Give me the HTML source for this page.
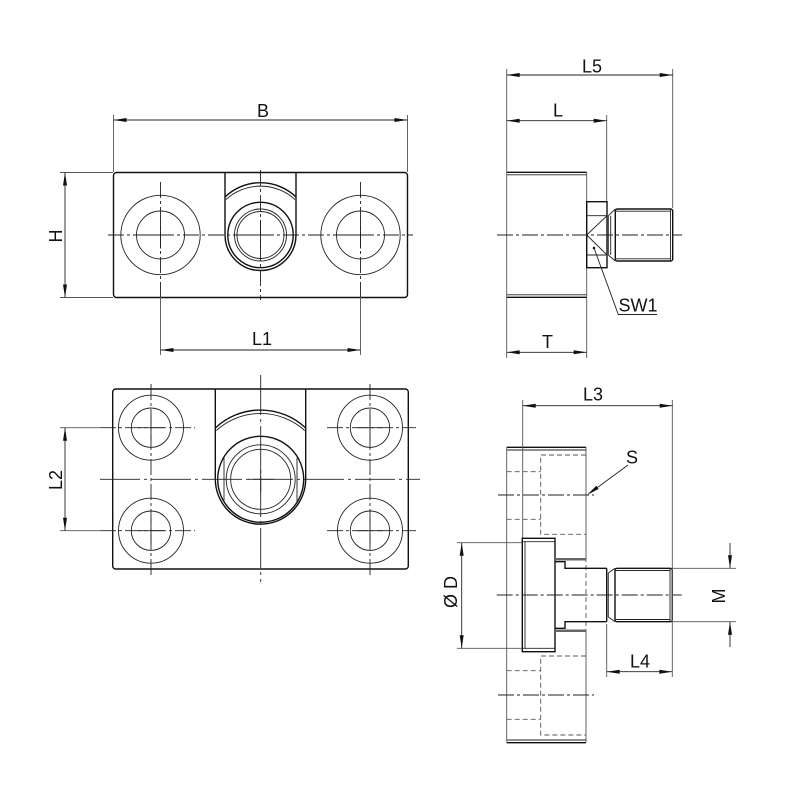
<!DOCTYPE html>
<html><head><meta charset="utf-8"><style>
html,body{margin:0;padding:0;background:#fff;}
svg{display:block;}
.o{stroke:#111;stroke-width:1.4;fill:none}
.t{stroke:#222;stroke-width:0.9;fill:none}
.g{stroke:#555;stroke-width:0.9;fill:none}
.c{stroke:#222;stroke-width:0.9;fill:none;stroke-dasharray:16 3 3 3}
.cl{stroke:#222;stroke-width:0.9;fill:none;stroke-dasharray:40 4 3 4}
.h{stroke:#555;stroke-width:0.9;fill:none;stroke-dasharray:5 3}
.a{fill:#111;stroke:none}
text{font-family:"Liberation Sans",sans-serif;font-size:18px;fill:#111;}
</style></head><body>
<svg width="800" height="800" viewBox="0 0 800 800" xmlns="http://www.w3.org/2000/svg">
<!-- ===== TOP LEFT VIEW ===== -->
<rect class="o" x="113.5" y="172.5" width="294" height="125" rx="3"/>
<path class="o" d="M225,172.5 V235 A35.5,35.5 0 0 0 296,235 V172.5"/>
<path class="o" stroke-width="1.4" d="M225,197 A51.2,51.2 0 0 1 296,197"/>
<path class="t" d="M226,199.5 A51.2,51.2 0 0 1 295,199.5"/>
<circle class="o" stroke-width="1.8" cx="260.5" cy="235" r="32.7"/>
<circle class="t" cx="260.5" cy="235" r="26"/>
<circle class="t" cx="260.5" cy="235" r="23.5"/>
<circle class="t" cx="160.5" cy="235" r="39.7"/>
<circle class="t" cx="160.5" cy="235" r="24"/>
<circle class="t" cx="360.5" cy="235" r="39.7"/>
<circle class="t" cx="360.5" cy="235" r="24"/>
<path class="t" d="M147,235H174M160.5,221.5V248.5M247,235H274M260.5,221.5V248.5M347,235H374M360.5,221.5V248.5"/>
<line class="c" x1="108" y1="235" x2="413" y2="235"/>
<line class="c" x1="160.5" y1="182" x2="160.5" y2="297"/>
<line class="c" x1="360.5" y1="182" x2="360.5" y2="297"/>
<line class="c" x1="260.5" y1="170" x2="260.5" y2="300"/>
<!-- dims -->
<path class="g" d="M113.5,115V172M407.5,115V172M60,172.5H113M60,297.5H113M160.5,297V355M360.5,297V355"/>
<path class="t" d="M113.5,120H407.5M65,172.5V297.5M160.5,350H360.5"/>
<polygon class="a" points="113.5,120 126.5,118 126.5,122"/>
<polygon class="a" points="407.5,120 394.5,118 394.5,122"/>
<polygon class="a" points="65,172.5 63,185.5 67,185.5"/>
<polygon class="a" points="65,297.5 63,284.5 67,284.5"/>
<polygon class="a" points="160.5,350 173.5,348 173.5,352"/>
<polygon class="a" points="360.5,350 347.5,348 347.5,352"/>
<text x="263" y="117" text-anchor="middle">B</text>
<text x="262" y="345" text-anchor="middle">L1</text>
<text transform="translate(62,236) rotate(-90)" text-anchor="middle">H</text>

<!-- ===== TOP RIGHT VIEW ===== -->
<path class="o" d="M506.7,172.3H586.7M506.7,297.3H586.7"/>
<path class="t" d="M506.7,174.8H586.7M506.7,294.8H586.7"/>
<path class="g" d="M506.7,172.3V297.3M586.7,172.3V297.3"/>
<rect class="o" x="586.7" y="201.7" width="20.3" height="66"/>
<path class="t" d="M586.7,215.7H607M586.7,255H607M586.7,235L607,215.7M586.7,235L607,255"/>
<path class="t" d="M608.3,215.7V255M610.7,215.7V255M608.3,215.7L615.3,209M608.3,255L615.3,261"/>
<rect class="o" x="615.3" y="209" width="57.4" height="52" rx="2"/>
<path class="t" d="M615.3,211.2H671M615.3,258.8H671M670.5,209V261"/>
<line class="c" x1="497" y1="235" x2="682" y2="235"/>
<circle cx="594" cy="248" r="1.3" fill="#111"/>
<path class="t" d="M594,248L618.3,314.5H657"/>
<text x="618.5" y="311.5">SW1</text>
<!-- dims -->
<path class="g" d="M506.7,69V172M606.7,115V201M672.7,69V208M506.7,297V358M586.7,297V358"/>
<path class="t" d="M506.7,75H672.7M506.7,120.7H606.7M506.7,352.3H586.7"/>
<polygon class="a" points="506.7,75 519.7,73 519.7,77"/>
<polygon class="a" points="672.7,75 659.7,73 659.7,77"/>
<polygon class="a" points="506.7,120.7 519.7,118.7 519.7,122.7"/>
<polygon class="a" points="606.7,120.7 593.7,118.7 593.7,122.7"/>
<polygon class="a" points="506.7,352.3 519.7,350.3 519.7,354.3"/>
<polygon class="a" points="586.7,352.3 573.7,350.3 573.7,354.3"/>
<text x="592" y="72.5" text-anchor="middle">L5</text>
<text x="558" y="116.5" text-anchor="middle">L</text>
<text x="547.5" y="348" text-anchor="middle">T</text>

<!-- ===== BOTTOM LEFT VIEW ===== -->
<rect class="o" x="112.7" y="389" width="295.6" height="180" rx="3"/>
<path class="o" d="M215.3,389 V479 A45.2,45.2 0 0 0 305.7,479 V389"/>
<path class="o" stroke-width="1.4" d="M215.3,428 A65.8,65.8 0 0 1 305.7,428"/>
<path class="t" d="M216.3,430.5 A65.8,65.8 0 0 1 304.7,430.5"/>
<circle class="o" stroke-width="1.9" cx="260.7" cy="479.3" r="43"/>
<circle class="t" cx="260.7" cy="479.3" r="34.5"/>
<circle class="t" cx="260.7" cy="479.3" r="30"/>
<path class="t" d="M224,458V502M297,458V502"/>
<circle class="t" cx="151" cy="427.7" r="32.5"/><circle class="t" cx="151" cy="427.7" r="19.7"/>
<circle class="t" cx="370" cy="427.7" r="32.5"/><circle class="t" cx="370" cy="427.7" r="19.7"/>
<circle class="t" cx="151" cy="530.7" r="32.5"/><circle class="t" cx="151" cy="530.7" r="19.7"/>
<circle class="t" cx="370" cy="530.7" r="32.5"/><circle class="t" cx="370" cy="530.7" r="19.7"/>
<path class="t" d="M138,427.7H164M151,414.7V440.7M357,427.7H383M370,414.7V440.7M138,530.7H164M151,517.7V543.7M357,530.7H383M370,517.7V543.7M248,479.3H274M260.7,466.3V492.3"/>
<line class="c" x1="100" y1="427.7" x2="195" y2="427.7"/>
<line class="c" x1="327" y1="427.7" x2="416" y2="427.7"/>
<line class="c" x1="100" y1="530.7" x2="195" y2="530.7"/>
<line class="c" x1="327" y1="530.7" x2="416" y2="530.7"/>
<line class="c" x1="151" y1="384" x2="151" y2="576"/>
<line class="c" x1="370" y1="384" x2="370" y2="576"/>
<line class="cl" x1="100" y1="479.3" x2="420" y2="479.3"/>
<line class="cl" x1="260.7" y1="375" x2="260.7" y2="582"/>
<path class="g" d="M60,427.7H100M60,530.7H100"/>
<path class="t" d="M65,427.7V530.7"/>
<polygon class="a" points="65,427.7 63,440.7 67,440.7"/>
<polygon class="a" points="65,530.7 63,517.7 67,517.7"/>
<text transform="translate(62,480) rotate(-90)" text-anchor="middle">L2</text>

<!-- ===== BOTTOM RIGHT VIEW ===== -->
<path class="o" d="M506.7,447.3H586M506.7,742.7H586"/>
<path class="t" d="M506.7,450H586M506.7,740H586"/>
<path class="g" d="M506.7,447.3V742.7M586,447.3V557M586,630V742.7"/>
<path class="h" d="M586,557V630"/>
<path class="h" d="M586,455H540.7V534.3H586M506.7,471.7H540.7M506.7,519.3H540.7"/>
<path class="h" d="M586,656H540.7V735H586M506.7,670.7H540.7M506.7,719.3H540.7"/>
<line class="c" x1="498" y1="495" x2="594" y2="495"/>
<line class="c" x1="498" y1="695" x2="594" y2="695"/>
<path class="g" d="M522.7,400V538"/>
<!-- head -->
<rect class="o" stroke-width="1.7" x="522.3" y="538.3" width="32.7" height="113.4"/>
<path class="t" d="M522.3,541.7H555M522.3,648.3H555M525,541.7V648.3"/>
<path stroke="#666" stroke-width="2.5" d="M555,559.3H586M555,630.7H586"/>
<path class="o" d="M555,561.7H565V568.3H606.7M555,628.3H565V621.7H606.7"/>
<path class="o" d="M606.7,568.3V621.7"/>
<path class="t" d="M608.3,573V617M608.3,573L615,568.3M608.3,617L615,621.7"/>
<rect class="o" x="615" y="568.3" width="57.3" height="53.4" rx="2"/>
<path class="t" d="M615,570.5H670.5M615,619.5H670.5M670,568.3V621.7"/>
<line class="c" x1="496.7" y1="595" x2="681.7" y2="595"/>
<!-- S leader -->
<path class="t" d="M628,465L590,493"/>
<polygon class="a" points="587,495 598.7,488.9 596.3,485.7"/>
<text x="632" y="463.5" text-anchor="middle">S</text>
<!-- dims -->
<path class="g" d="M672.3,400V677M606.7,624V677M457,542.7H522M457,648.3H522M672,568.3H736M672,621.7H736"/>
<path class="t" d="M522.7,405.7H672.7M606.7,671.7H672.3M461.7,542.7V648.3M730,543V568.3M730,621.7V647"/>
<polygon class="a" points="522.7,405.7 535.7,403.7 535.7,407.7"/>
<polygon class="a" points="672.7,405.7 659.7,403.7 659.7,407.7"/>
<polygon class="a" points="606.7,671.7 619.7,669.7 619.7,673.7"/>
<polygon class="a" points="672.3,671.7 659.3,669.7 659.3,673.7"/>
<polygon class="a" points="461.7,542.7 459.7,555.7 463.7,555.7"/>
<polygon class="a" points="461.7,648.3 459.7,635.3 463.7,635.3"/>
<polygon class="a" points="730,568.3 728,555.3 732,555.3"/>
<polygon class="a" points="730,621.7 728,634.7 732,634.7"/>
<text x="593" y="400.5" text-anchor="middle">L3</text>
<text x="640" y="667.5" text-anchor="middle">L4</text>
<text transform="translate(457,592) rotate(-90)" text-anchor="middle">Ø D</text>
<text transform="translate(725,596) rotate(-90)" text-anchor="middle">M</text>
</svg>
</body></html>
